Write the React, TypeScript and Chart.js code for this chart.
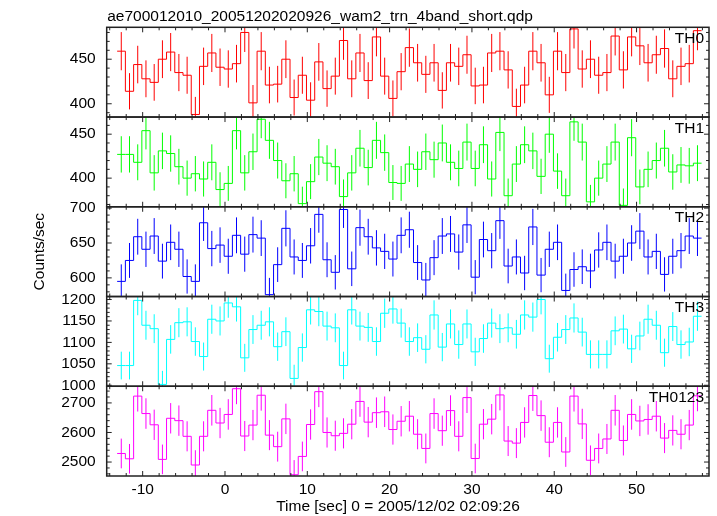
import React, { useEffect, useRef } from "react";
import { Chart, registerables } from "chart.js";

Chart.register(...registerables);

// ---- data -------------------------------------------------------------
const times = [
  -12.6, -11.6, -10.6, -9.6, -8.6, -7.6, -6.6, -5.6, -4.6, -3.6,
  -2.6, -1.6, -0.6, 0.4, 1.4, 2.4, 3.4, 4.4, 5.4, 6.4,
  7.4, 8.4, 9.4, 10.4, 11.4, 12.4, 13.4, 14.4, 15.4, 16.4,
  17.4, 18.4, 19.4, 20.4, 21.4, 22.4, 23.4, 24.4, 25.4, 26.4,
  27.4, 28.4, 29.4, 30.4, 31.4, 32.4, 33.4, 34.4, 35.4, 36.4,
  37.4, 38.4, 39.4, 40.4, 41.4, 42.4, 43.4, 44.4, 45.4, 46.4,
  47.4, 48.4, 49.4, 50.4, 51.4, 52.4, 53.4, 54.4, 55.4, 56.4,
  57.4,
];
const binHalfWidth = 0.5;

const th0 = [
  459, 414, 444, 428, 424, 450, 458, 435, 432, 388,
  442, 457, 441, 439, 445, 480, 401, 459, 421, 422,
  450, 407, 432, 404, 447, 417, 431, 471, 428, 457,
  426, 475, 431, 406, 436, 463, 446, 433, 446, 415,
  446, 442, 455, 420, 421, 457, 459, 438, 397, 421,
  459, 446, 410, 459, 435, 484, 439, 450, 432, 435,
  476, 438, 475, 465, 446, 455, 462, 428, 442, 445,
  482,
];
const th1 = [
  427, 427, 418, 454, 406, 431, 428, 413, 400, 405,
  399, 418, 387, 394, 454, 406, 430, 467, 443, 420,
  397, 405, 371, 396, 424, 417, 413, 379, 406, 434,
  412, 443, 429, 395, 394, 416, 410, 430, 421, 440,
  418, 411, 441, 411, 438, 399, 452, 380, 416, 438,
  431, 402, 450, 408, 380, 464, 441, 373, 400, 416,
  441, 369, 446, 390, 410, 420, 434, 407, 415, 414,
  417,
];
const th2 = [
  595, 625, 659, 641, 660, 624, 651, 641, 602, 595,
  679, 642, 647, 631, 661, 634, 662, 657, 576, 619,
  671, 630, 625, 646, 691, 626, 608, 698, 613, 672,
  659, 643, 638, 627, 661, 669, 622, 597, 629, 660,
  663, 637, 676, 601, 655, 639, 682, 617, 630, 607,
  673, 604, 641, 651, 582, 612, 616, 610, 640, 651,
  624, 631, 650, 667, 630, 638, 605, 631, 639, 660,
  657,
];
const th3 = [
  1046, 1046, 1198, 1140, 1132, 1002, 1107, 1146, 1148, 1102,
  1067, 1154, 1150, 1192, 1183, 1064, 1130, 1140, 1148, 1090,
  1125, 1016, 1088, 1176, 1172, 1138, 1134, 1046, 1176, 1138,
  1135, 1102, 1168, 1178, 1145, 1102, 1111, 1084, 1164, 1089,
  1143, 1095, 1143, 1078, 1109, 1145, 1132, 1134, 1119, 1164,
  1159, 1200, 1062, 1112, 1130, 1157, 1124, 1072, 1072, 1072,
  1127, 1131, 1085, 1115, 1154, 1140, 1076, 1137, 1095, 1101,
  1161,
];
const th0123 = [
  2529, 2511, 2723, 2664, 2626, 2509, 2648, 2640, 2587, 2490,
  2587, 2675, 2632, 2661, 2748, 2588, 2625, 2726, 2591, 2552,
  2646, 2457, 2519, 2627, 2738, 2600, 2589, 2597, 2628, 2705,
  2635, 2667, 2670, 2610, 2638, 2655, 2594, 2546, 2664, 2606,
  2674, 2587, 2718, 2512, 2628, 2645, 2727, 2571, 2564, 2634,
  2725, 2657, 2567, 2634, 2534, 2723, 2629, 2506, 2546, 2578,
  2675, 2573, 2661, 2639, 2644, 2655, 2581, 2607, 2594, 2625,
  2724,
];

const panelSeries = [th0, th1, th2, th3, th0123];
const panelNames = ["TH0", "TH1", "TH2", "TH3", "TH0123"];
const panelColors = ["#ff0000", "#00ff00", "#0000ff", "#00ffff", "#ff00ff"];
const yMin = [385.1, 367.4, 573.3, 997.7, 2452.8];
const yMax = [485.8, 469.5, 701.9, 1207, 2756.3];
const yTickLabels = [
  [400, 450],
  [400, 450],
  [600, 650, 700],
  [1000, 1050, 1100, 1150, 1200],
  [2500, 2600, 2700],
];
const yMajor = [50, 50, 50, 50, 100];
const yMinor = [10, 10, 10, 10, 20];

const xMin = -14.37;
const xMax = 58.8;
const xTickLabels = [-10, 0, 10, 20, 30, 40, 50];
const xMajor = 10;
const xMinor = 2;

const plotTitle = "ae700012010_20051202020926_wam2_trn_4band_short.qdp";
const xTitle = "Time [sec] 0 = 2005/12/02 02:09:26";
const yTitle = "Counts/sec";

const FONT = "'Liberation Sans', Arial, Helvetica, sans-serif";
const FS = 15.5;

// ---- plugins ----------------------------------------------------------
const panelClip = {
  id: "panelClip",
  beforeDatasetDraw(chart: any, args: any) {
    const ys = chart.scales[args.meta.yAxisID];
    const xs = chart.scales.x;
    const ctx = chart.ctx;
    ctx.save();
    ctx.beginPath();
    ctx.rect(xs.left, ys.top, xs.right - xs.left, ys.bottom - ys.top);
    ctx.clip();
  },
  afterDatasetDraw(chart: any) {
    chart.ctx.restore();
  },
};

const frameAndText = {
  id: "frameAndText",
  afterDatasetsDraw(chart: any) {
    const ctx = chart.ctx;
    const xs = chart.scales.x;
    const L = xs.left;
    const R = xs.right;
    ctx.save();
    ctx.strokeStyle = "#222";
    ctx.lineWidth = 1;
    const majorLen = 5;
    const minorLen = 3;
    panelNames.forEach((name, k) => {
      const ys = chart.scales["y" + k];
      const T = ys.top;
      const B = ys.bottom;
      // y ticks (inward, both sides)
      const yStart = Math.ceil(yMin[k] / yMinor[k]) * yMinor[k];
      for (let v = yStart; v <= yMax[k] + 1e-9; v += yMinor[k]) {
        const isMajor = Math.abs(v / yMajor[k] - Math.round(v / yMajor[k])) < 1e-6;
        const len = isMajor ? majorLen : minorLen;
        const py = ys.getPixelForValue(v);
        ctx.beginPath();
        ctx.moveTo(L, py);
        ctx.lineTo(L + len, py);
        ctx.moveTo(R, py);
        ctx.lineTo(R - len, py);
        ctx.stroke();
      }
      // x ticks (inward, top and bottom of every panel)
      const xStart = Math.ceil(xMin / xMinor) * xMinor;
      for (let v = xStart; v <= xMax + 1e-9; v += xMinor) {
        const isMajor = Math.abs(v / xMajor - Math.round(v / xMajor)) < 1e-6;
        const len = isMajor ? majorLen : minorLen;
        const px = xs.getPixelForValue(v);
        ctx.beginPath();
        ctx.moveTo(px, T);
        ctx.lineTo(px, T + len);
        ctx.moveTo(px, B);
        ctx.lineTo(px, B - len);
        ctx.stroke();
      }
      // frame
      ctx.save();
      ctx.lineWidth = 1.5;
      ctx.strokeStyle = "#222";
      ctx.strokeRect(L, T, R - L, B - T);
      ctx.restore();
      // panel label
      ctx.fillStyle = "#000";
      ctx.font = `${FS}px ${FONT}`;
      ctx.textAlign = "right";
      ctx.textBaseline = "alphabetic";
      ctx.fillText(name, R - 5, T + 15.5);
    });
    // titles
    ctx.fillStyle = "#000";
    ctx.font = `${FS}px ${FONT}`;
    ctx.textAlign = "left";
    ctx.textBaseline = "alphabetic";
    ctx.fillText(plotTitle, L + 0.5, 20.5);
    ctx.textAlign = "center";
    ctx.fillText(xTitle, 398, 511);
    ctx.save();
    ctx.translate(40, (chart.chartArea.top + chart.chartArea.bottom) / 2);
    ctx.rotate(-Math.PI / 2);
    ctx.textBaseline = "middle";
    ctx.fillText(yTitle, 0, 0);
    ctx.restore();
    ctx.restore();
  },
};

// ---- component --------------------------------------------------------
export default function App() {
  const canvasRef = useRef<HTMLCanvasElement | null>(null);

  useEffect(() => {
    const canvas = canvasRef.current;
    if (!canvas) return;
    const n = times.length;
    const datasets: any[] = [];
    const scales: any = {
      x: {
        type: "linear",
        position: "bottom",
        min: xMin,
        max: xMax,
        grid: { display: false, drawTicks: false },
        border: { display: false },
        afterBuildTicks: (s: any) => {
          s.ticks = xTickLabels.map((v) => ({ value: v }));
        },
        ticks: {
          autoSkip: false,
          maxRotation: 0,
          padding: 4,
          color: "#000",
          font: { family: FONT, size: FS },
          callback: (v: any) => String(v),
        },
        afterFit: (s: any) => {
          s.height = 40;
        },
      },
    };

    panelSeries.forEach((series, k) => {
      const stepData = series.map((v, i) => ({ x: times[i] - binHalfWidth, y: v }));
      stepData.push({ x: times[n - 1] + binHalfWidth, y: series[n - 1] });
      datasets.push({
        type: "line",
        data: stepData,
        yAxisID: "y" + k,
        borderColor: panelColors[k],
        borderWidth: 1,
        pointRadius: 0,
        stepped: "before",
        fill: false,
      });
      const errData: any[] = [];
      series.forEach((v, i) => {
        const e = Math.sqrt(v); // Poisson error of 1-s bin counts
        errData.push({ x: times[i], y: v - e });
        errData.push({ x: times[i], y: v + e });
        errData.push({ x: times[i], y: null });
      });
      datasets.push({
        type: "line",
        data: errData,
        yAxisID: "y" + k,
        borderColor: panelColors[k],
        borderWidth: 1,
        pointRadius: 0,
        spanGaps: false,
        fill: false,
      });
      scales["y" + k] = {
        type: "linear",
        position: "left",
        stack: "panels",
        stackWeight: 1,
        weight: 4 - k,
        min: yMin[k],
        max: yMax[k],
        grid: { display: false, drawTicks: false },
        border: { display: false },
        afterBuildTicks: (s: any) => {
          s.ticks = yTickLabels[k].map((v) => ({ value: v }));
        },
        ticks: {
          autoSkip: false,
          padding: 11,
          color: "#000",
          font: { family: FONT, size: FS },
          callback: (v: any) => String(v),
        },
        afterFit: (s: any) => {
          s.width = 106.7;
        },
      };
    });

    const chart = new Chart(canvas, {
      type: "line",
      data: { datasets },
      options: {
        animation: false,
        responsive: false,
        maintainAspectRatio: false,
        parsing: false as any,
        normalized: true,
        layout: { padding: { top: 27.3, right: 8, bottom: 0, left: 0 } },
        plugins: {
          legend: { display: false },
          tooltip: { enabled: false },
          title: { display: false },
        },
        events: [],
        scales,
      },
      plugins: [panelClip, frameAndText],
    });
    return () => chart.destroy();
  }, []);

  return (
    <div style={{ position: "fixed", left: 0, top: 0, width: 717, height: 516, background: "#fff" }}>
      <canvas ref={canvasRef} width={717} height={516} style={{ display: "block" }} />
    </div>
  );
}
